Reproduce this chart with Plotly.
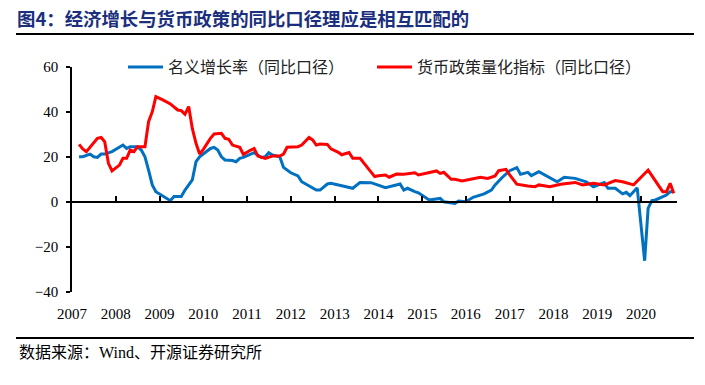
import plotly.graph_objects as go

W, H = 705, 385
L, R, T, B = 72, 28, 67, 93

# ---- data (monthly) ----
nominal_dates = ["2007-03","2007-04","2007-06","2007-07","2007-08","2007-09","2007-10","2007-12",
    "2008-03","2008-04","2008-05","2008-07","2008-08","2008-09","2008-10","2008-11","2008-12",
    "2009-02","2009-04","2009-05","2009-07","2009-08","2009-10","2009-11","2009-12",
    "2010-03","2010-04","2010-05","2010-06","2010-07","2010-09","2010-10","2010-11","2010-12",
    "2011-03","2011-05","2011-06","2011-07","2011-08","2011-10","2011-11",
    "2012-01","2012-03","2012-04","2012-05","2012-08","2012-09","2012-11","2012-12",
    "2013-03","2013-06","2013-08","2013-11",
    "2014-03","2014-07","2014-08","2014-09","2014-11","2014-12",
    "2015-03","2015-06","2015-07","2015-10","2015-11",
    "2016-01","2016-03","2016-06","2016-08","2016-09","2016-11",
    "2017-01","2017-03","2017-04","2017-06","2017-07","2017-09","2017-11",
    "2018-02","2018-04","2018-07","2018-10","2018-12",
    "2019-03","2019-04","2019-06","2019-08","2019-09","2019-10","2019-12",
    "2020-02","2020-03","2020-04","2020-05","2020-08","2020-09","2020-10"]
nominal_growth = [20.1,20.1,21.3,20.1,19.8,21.3,21.3,22.4,
    25.3,23.8,24.6,24.6,23.1,20.1,14.2,7.6,4.6,
    2.4,0.6,2.4,2.4,5.3,9.8,17.9,20.1,
    23.8,24.3,23.1,20.1,18.7,18.4,17.9,19.4,19.8,
    21.9,19.8,20.1,21.9,20.9,20.1,15.4,
    13.0,11.6,9.0,8.0,5.3,5.3,8.0,8.3,
    7.1,6.1,8.7,8.6,
    6.4,8.0,5.3,6.1,4.6,4.1,
    0.9,1.6,0.1,-0.6,0.4,
    0.1,2.1,3.6,5.3,7.6,11.0,
    13.9,15.3,12.3,13.2,11.7,13.5,11.6,
    9.0,11.0,10.5,9.0,6.8,
    8.6,6.1,6.1,3.6,4.3,2.8,6.3,
    -26.1,-2.8,0.6,0.9,3.1,4.6,4.6]

policy_dates = ["2007-03","2007-04","2007-05","2007-06","2007-07","2007-08","2007-09","2007-10","2007-11","2007-12",
    "2008-02","2008-03","2008-04","2008-05","2008-06","2008-07","2008-09","2008-10","2008-11","2008-12",
    "2009-02","2009-04","2009-06","2009-07","2009-08","2009-09","2009-10","2009-11","2009-12",
    "2010-01","2010-03","2010-04","2010-06","2010-07","2010-08","2010-09","2010-11","2010-12",
    "2011-02","2011-03","2011-04","2011-05","2011-06","2011-08","2011-10","2011-11","2011-12",
    "2012-03","2012-04","2012-06","2012-07","2012-08","2012-09","2012-11","2012-12",
    "2013-02","2013-03","2013-05","2013-06","2013-08","2013-09","2013-10","2013-12",
    "2014-01","2014-03","2014-04","2014-06","2014-08","2014-11","2014-12",
    "2015-03","2015-05","2015-06","2015-07","2015-09","2015-10","2015-12",
    "2016-03","2016-05","2016-07","2016-09","2016-10","2016-12",
    "2017-01","2017-03","2017-06","2017-08","2017-09","2017-12",
    "2018-03","2018-07","2018-09","2018-12",
    "2019-03","2019-06","2019-08","2019-11",
    "2020-03","2020-07","2020-08","2020-09","2020-10"]
policy_index = [25.6,23.6,22.4,24.3,26.4,28.3,28.7,26.8,17.2,13.8,
    16.4,19.4,19.4,23.1,22.4,24.6,24.6,35.7,40.1,46.8,
    45.3,43.6,40.9,40.6,39.0,42.4,32.7,26.1,21.3,
    23.4,28.3,30.2,30.5,28.3,27.9,25.3,24.3,21.2,
    23.1,23.8,20.4,19.8,19.4,20.4,20.4,21.3,24.3,
    24.6,25.3,28.7,27.6,25.3,25.8,25.6,23.6,
    22.1,21.0,22.0,19.4,19.4,17.2,15.4,11.3,
    11.7,12.0,11.0,12.4,12.3,13.0,12.0,
    13.0,13.8,12.7,13.2,10.1,10.1,9.3,
    10.5,11.0,10.5,11.6,13.9,14.5,
    12.0,7.9,7.1,6.8,7.6,6.8,
    7.9,8.7,7.6,8.3,
    7.6,9.5,9.0,7.6,
    14.2,4.6,4.6,8.3,3.9]

years = list(range(2007, 2021))
year_labels = [str(y) for y in years]
y_ticks = [-40, -20, 0, 20, 40, 60]

title_text = "图4：经济增长与货币政策的同比口径理应是相互匹配的"
source_text = "数据来源：Wind、开源证券研究所"
name_blue = "名义增长率（同比口径）"
name_red = "货币政策量化指标（同比口径）"

BLUE = "#0070C0"
RED = "#FF0000"
SERIF = "Liberation Serif, Noto Sans CJK SC"
CJK = "Noto Sans CJK SC"

pw, ph = W - L - R, H - T - B
def px_x(p):
    return (p - L) / pw
def px_y(p):
    return 1 - (p - T) / ph

x_range = ["2007-01-01", "2020-10-28"]

fig = go.Figure()
fig.add_trace(go.Scatter(x=nominal_dates, y=nominal_growth, mode="lines", name=name_blue,
                         line=dict(color=BLUE, width=3), legend="legend"))
fig.add_trace(go.Scatter(x=policy_dates, y=policy_index, mode="lines", name=name_red,
                         line=dict(color=RED, width=3), legend="legend2"))
fig.add_trace(go.Scatter(x=[x_range[0]], y=[None], xaxis="x2", showlegend=False,
                         hoverinfo="skip", mode="lines"))

fig.update_layout(
    width=W, height=H,
    margin=dict(l=L, r=R, t=T, b=B, autoexpand=False),
    paper_bgcolor="white", plot_bgcolor="white",
    showlegend=True,
    title=dict(text="<b>" + title_text + "</b>", xref="container", yref="container",
               x=17 / W, xanchor="left", y=1 - 19.5 / H, yanchor="middle",
               font=dict(family=CJK, size=18.4, color="#1B2F7E")),
    xaxis=dict(type="date", range=x_range, showgrid=False, zeroline=False, showline=False,
               tickmode="array", tickvals=[f"{y}-01-01" for y in years], ticktext=year_labels,
               ticks="outside", ticklen=8, tickcolor="rgba(0,0,0,0)",
               tickfont=dict(family=SERIF, size=15, color="black")),
    xaxis2=dict(type="date", range=x_range, overlaying="x", anchor="free", position=0.4,
                showgrid=False, zeroline=False, showline=True, linecolor="black", linewidth=1.5,
                tickmode="array", tickvals=[f"{y}-01-01" for y in years[1:]],
                ticks="inside", ticklen=5, tickwidth=1.5, tickcolor="black",
                showticklabels=False),
    yaxis=dict(range=[-40, 60], tickvals=y_ticks, showgrid=False, zeroline=False,
               showline=True, linecolor="black", linewidth=1.5,
               ticks="outside", ticklen=4, tickwidth=1.5, tickcolor="black",
               ticklabelstandoff=5,
               tickfont=dict(family=SERIF, size=15, color="black")),
    legend=dict(orientation="h", x=px_x(123), xanchor="left", y=1.0, yanchor="middle",
                itemwidth=35,
                bgcolor="rgba(0,0,0,0)", font=dict(family=CJK, size=16, color="#222222")),
    legend2=dict(orientation="h", x=px_x(372), xanchor="left", y=1.0, yanchor="middle",
                 itemwidth=35,
                 bgcolor="rgba(0,0,0,0)", font=dict(family=CJK, size=16, color="#222222")),
    shapes=[
        dict(type="line", xref="paper", yref="paper", x0=px_x(16), x1=px_x(694),
             y0=px_y(34), y1=px_y(34), line=dict(color="black", width=2)),
        dict(type="line", xref="paper", yref="paper", x0=px_x(16), x1=px_x(694),
             y0=px_y(338), y1=px_y(338), line=dict(color="black", width=2)),
    ],
    annotations=[
        dict(text=source_text, xref="paper", yref="paper", x=px_x(17), y=px_y(352),
             xanchor="left", yanchor="middle", showarrow=False,
             font=dict(family=SERIF, size=16, color="black")),
    ],
)

fig.write_html("out.html", config={"displayModeBar": False},
               post_script="document.body.style.margin='0px';")
